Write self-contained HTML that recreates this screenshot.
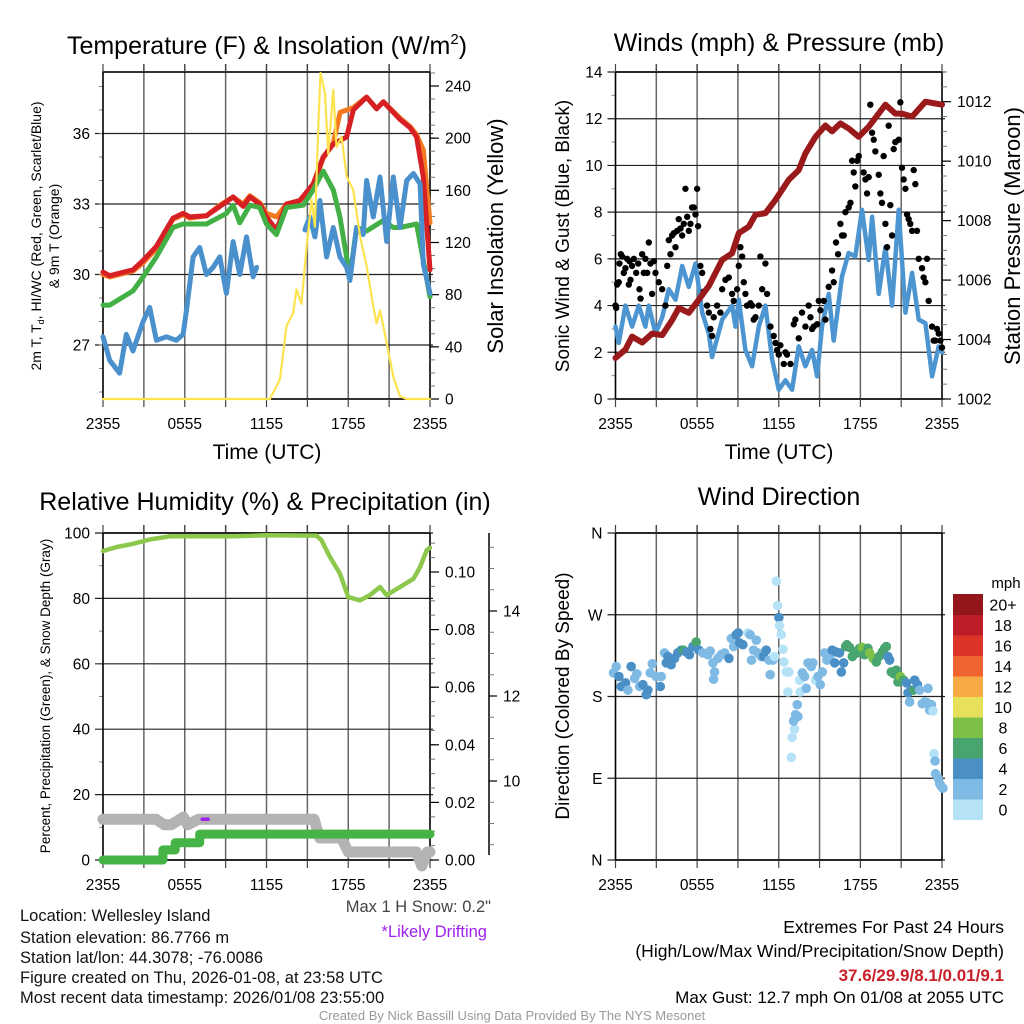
<!DOCTYPE html>
<html><head><meta charset="utf-8">
<style>
html,body{margin:0;padding:0;background:#fff;}
svg{display:block;font-family:"Liberation Sans",sans-serif;}
</style></head>
<body>
<svg id="fig" xmlns="http://www.w3.org/2000/svg" width="1024" height="1024" viewBox="0 0 1024 1024">
<rect width="1024" height="1024" fill="#fff"/>
<g id="layer"></g>
<!-- titles -->
<text x="267" y="54" font-size="25" text-anchor="middle">Temperature (F) &amp; Insolation (W/m<tspan dy="-10" font-size="15">2</tspan><tspan dy="10">)</tspan></text>
<text x="779" y="51" font-size="25" text-anchor="middle">Winds (mph) &amp; Pressure (mb)</text>
<text x="265" y="510" font-size="25" text-anchor="middle">Relative Humidity (%) &amp; Precipitation (in)</text>
<text x="779" y="505" font-size="25" text-anchor="middle">Wind Direction</text>
<!-- axis titles -->
<text x="267" y="459" font-size="21" text-anchor="middle">Time (UTC)</text>
<text x="779" y="459" font-size="21" text-anchor="middle">Time (UTC)</text>
<text transform="translate(41,236) rotate(-90)" font-size="14" text-anchor="middle">2m T, T<tspan font-size="9" dy="3">d</tspan><tspan dy="-3">, HI/WC (Red, Green, Scarlet/Blue)</tspan></text>
<text transform="translate(59,236) rotate(-90)" font-size="14" text-anchor="middle">&amp; 9m T (Orange)</text>
<text transform="translate(503,236) rotate(-90)" font-size="22" text-anchor="middle">Solar Insolation (Yellow)</text>
<text transform="translate(569,236) rotate(-90)" font-size="19" text-anchor="middle">Sonic Wind &amp; Gust (Blue, Black)</text>
<text transform="translate(1020,236) rotate(-90)" font-size="22" text-anchor="middle">Station Pressure (Maroon)</text>
<text transform="translate(50,696) rotate(-90)" font-size="13.5" text-anchor="middle">Percent, Precipitation (Green), &amp; Snow Depth (Gray)</text>
<text transform="translate(569,696) rotate(-90)" font-size="19" text-anchor="middle">Direction (Colored By Speed)</text>
<!-- footer text -->
<g font-size="16.5" fill="#111">
<text x="20" y="921">Location: Wellesley Island</text>
<text x="20" y="943">Station elevation: 86.7766 m</text>
<text x="20" y="963">Station lat/lon: 44.3078; -76.0086</text>
<text x="20" y="983">Figure created on Thu, 2026-01-08, at 23:58 UTC</text>
<text x="20" y="1003">Most recent data timestamp: 2026/01/08 23:55:00</text>
</g>
<text x="491" y="912" font-size="16.5" fill="#444" text-anchor="end">Max 1 H Snow: 0.2"</text>
<text x="487" y="937" font-size="16.5" fill="#a020f0" text-anchor="end">*Likely Drifting</text>
<text x="1004" y="933" font-size="17.5" text-anchor="end">Extremes For Past 24 Hours</text>
<text x="1004" y="957" font-size="17.5" text-anchor="end">(High/Low/Max Wind/Precipitation/Snow Depth)</text>
<text x="1004" y="981" font-size="17" font-weight="bold" fill="#c8202a" text-anchor="end">37.6/29.9/8.1/0.01/9.1</text>
<text x="1004" y="1003" font-size="17" text-anchor="end">Max Gust: 12.7 mph On 01/08 at 2055 UTC</text>
<text x="512" y="1020" font-size="13" fill="#999" text-anchor="middle">Created By Nick Bassill Using Data Provided By The NYS Mesonet</text>
</svg>
<script>
// ---------- shared ----------
var timeTicks = [0, 6, 12, 18, 24];
var timeTickLabels = ["2355", "0555", "1155", "1755", "2355"];

// ---------- temperature panel ----------
var redT = [0,0.49,2.2,2.94,3.92,5.14,5.88,6.37,7.59,8.57,9.55,10.29,10.78,11.51,12.0,12.73,13.47,14.45,15.43,16.16,16.9,17.88,18.37,19.35,20.08,20.57,21.8,22.53,23.02,23.51,24];
var redV = [30.1,29.95,30.2,30.6,31.2,32.4,32.6,32.45,32.5,32.9,33.3,32.9,33.3,33.0,32.45,31.9,33.0,33.15,33.85,35.0,35.55,35.85,37.0,37.55,37.05,37.35,36.6,36.25,35.85,34.15,30.2];
var orangeT = [0,0.49,2.2,2.94,3.92,5.14,5.88,6.37,7.59,8.57,9.55,10.29,10.78,11.51,12.0,12.73,13.47,14.45,15.43,16.16,16.9,17.4,17.88,18.37,19.35,20.08,20.57,21.8,22.53,23.02,23.51,24];
var orangeV = [30.0,29.9,30.15,30.5,31.1,32.35,32.55,32.4,32.5,32.95,33.3,33.0,33.35,33.05,32.6,32.45,33.0,33.15,33.8,34.95,35.6,36.9,37.0,37.1,37.55,37.05,37.35,36.65,36.3,35.95,35.3,32.2];
var greenT = [0,0.49,2.2,2.94,3.92,5.14,5.88,7.59,8.57,9.06,9.55,10.04,10.78,11.51,12.0,12.73,13.47,14.7,15.43,16.16,16.9,17.39,18.12,18.61,19.35,20.57,21.31,21.8,23.02,24];
var greenV = [28.7,28.7,29.3,29.9,30.75,32.0,32.15,32.15,32.45,32.6,32.95,32.2,32.95,32.85,32.15,31.7,32.85,32.95,33.6,34.4,33.6,32.45,29.9,32.0,31.85,32.3,32.0,32.0,32.15,29.05];
var hiT = [0,0.49,1.22,1.71,2.2,2.94,3.43,3.92,4.65,5.39,5.88,6.12,6.61,7.1,7.59,8.08,8.57,9.06,9.55,10.04,10.53,11.02,11.27,null,14.82,15.18,15.55,15.92,16.41,16.9,17.39,17.88,18.12,18.61,19.1,19.35,19.84,20.33,20.82,21.31,21.8,22.29,22.78,23.27,23.51,24];
var hiV = [27.35,26.35,25.8,27.45,26.75,28.0,28.6,27.2,27.35,27.2,27.45,28.45,30.75,31.15,30.0,30.3,30.75,29.2,31.4,30.0,31.6,29.9,30.3,null,31.9,32.45,31.6,33.15,30.75,32.0,30.75,30.3,29.75,32.0,31.7,34.0,32.45,34.15,31.4,34.15,32.0,34.0,34.3,33.85,30.45,29.2];
var solarT = [0,12.25,12.98,13.47,13.96,14.2,14.57,14.94,15.31,15.55,15.8,15.96,16.29,16.53,16.9,17.14,17.51,17.88,18.37,18.86,19.35,19.84,20.08,20.33,20.82,21.31,21.8,22.29,24];
var solarV = [0,0,15,56,66,84,73,117,153,132,209,250,234,188,237,193,201,171,160,125,102,71,58,68,43,17,2,0,0];
var tempTicks = [27, 30, 33, 36];
var solarTicks = [0, 40, 80, 120, 160, 200, 240];

// ---------- wind panel ----------
var presT = [0,0.73,1.22,1.96,2.69,3.43,4.16,4.65,5.39,6.12,6.86,7.84,8.57,9.06,9.8,10.29,11.02,11.76,12.73,13.47,13.96,14.7,15.43,15.92,16.53,17.14,17.88,18.61,19.35,19.84,20.57,21.06,21.8,22.78,23.51,24];
var presV = [1003.38,1003.66,1004.1,1003.9,1004.2,1004.15,1004.65,1005.06,1004.9,1005.34,1005.8,1006.68,1006.9,1007.58,1007.8,1008.2,1008.25,1008.7,1009.37,1009.7,1010.26,1010.82,1011.2,1011.0,1011.27,1011.1,1010.82,1011.16,1011.6,1011.9,1011.6,1011.6,1011.5,1012.0,1011.94,1011.9];
var windT = [0,0.24,0.73,1.22,1.71,2.2,2.45,2.94,3.43,3.92,4.41,4.9,5.39,5.88,6.37,6.86,7.1,7.84,8.57,8.82,9.06,9.55,10.04,10.53,11.02,11.51,12.0,12.49,12.98,13.47,13.96,14.45,14.82,15.18,15.67,16.04,16.65,17.14,17.63,18.12,18.61,18.86,19.35,19.84,20.33,20.82,21.31,21.8,22.29,22.78,23.27,23.76,24];
var windV = [3.1,2.4,4.0,3.1,4.0,3.1,4.0,2.8,3.5,4.7,4.25,5.7,4.8,5.8,3.7,2.8,1.8,3.4,4.0,3.1,4.25,2.1,1.4,3.1,4.0,1.7,0.4,0.8,0.4,2.25,1.4,2.1,0.97,3.1,4.5,2.5,5.25,6.25,6.1,8.1,5.95,7.8,4.5,6.5,4.0,8.1,3.7,5.4,3.4,3.25,0.97,2.25,2.0];
var gustT = [0.0,0.05,0.12,0.24,0.29,0.39,0.49,0.61,0.73,0.86,0.98,1.03,1.1,1.22,1.35,1.52,1.67,1.76,1.84,1.96,2.08,2.2,2.33,2.45,2.57,2.69,2.82,2.94,3.18,3.43,3.67,3.8,3.92,4.04,4.16,4.29,4.41,4.53,4.65,4.78,4.9,5.02,5.14,5.27,5.39,5.51,5.63,5.76,5.88,6.0,6.07,6.24,6.37,6.49,6.73,6.86,6.98,7.1,7.22,7.47,7.71,7.84,8.08,8.33,8.57,8.69,8.94,9.06,9.18,9.31,9.43,9.55,9.67,9.92,10.04,10.16,10.29,10.53,10.65,10.78,11.02,11.14,11.39,11.63,11.76,11.88,12.0,12.12,12.37,12.49,12.61,12.86,13.1,13.22,13.47,13.71,13.96,14.2,14.33,14.45,14.57,14.82,14.94,15.06,15.31,15.43,15.67,15.92,16.04,16.21,16.36,16.53,16.65,16.78,16.9,17.14,17.27,17.39,17.51,17.63,17.76,17.88,18.24,18.37,18.49,18.61,18.73,18.86,18.98,19.1,19.35,19.47,19.59,19.71,19.84,19.96,20.08,20.2,20.33,20.45,20.57,20.82,20.94,21.06,21.18,21.31,21.43,21.55,21.67,21.8,21.92,22.04,22.16,22.29,22.53,22.65,22.78,22.9,23.02,23.27,23.39,23.51,23.63,23.76,23.88,24.0];
var gustV = [4.0,3.9,4.9,5.0,5.8,6.2,6.1,5.4,5.6,6.0,4.9,5.9,5.1,5.7,6.0,5.4,5.8,4.7,4.3,6.2,5.4,6.0,5.4,6.7,5.8,4.5,5.9,5.4,5.0,4.7,4.0,5.7,6.8,6.2,7.0,7.1,6.5,7.2,7.7,7.3,7.0,7.5,9.0,7.8,7.2,7.5,8.2,8.2,7.9,9.0,7.4,5.7,5.4,4.6,4.0,3.7,3.0,2.7,3.5,4.0,3.7,4.7,5.1,5.2,4.5,4.2,4.7,5.7,6.5,6.1,5.0,4.5,4.0,4.1,4.0,3.4,3.5,4.0,6.1,4.7,5.8,4.5,3.1,2.7,2.4,2.1,1.9,2.3,1.5,2.0,1.9,1.5,3.2,3.4,2.6,3.7,3.1,4.0,3.5,3.0,3.1,3.2,4.2,3.8,4.2,3.4,4.8,5.5,5.0,6.7,6.2,7.5,7.0,7.0,8.0,8.2,8.4,10.2,9.7,9.1,10.2,10.4,9.7,9.4,8.8,9.5,12.6,11.4,11.1,10.6,9.6,8.8,8.4,10.4,7.5,6.5,11.7,8.3,7.0,10.7,11.0,11.1,12.7,9.9,9.4,9.0,7.9,7.7,7.5,7.2,9.8,9.2,7.2,6.0,5.6,5.2,5.0,6.0,4.2,3.1,2.5,2.5,3.0,2.8,2.5,2.2];
var windTicks = [0, 2, 4, 6, 8, 10, 12, 14];
var presTicks = [1002, 1004, 1006, 1008, 1010, 1012];

// ---------- humidity panel ----------
var rhT = [0,0.98,2.2,3.43,4.9,9.55,12.0,15.67,16.04,16.65,17.39,18.0,18.86,19.59,20.33,20.82,21.8,22.78,23.27,23.76,24];
var rhV = [94.5,95.7,96.7,98,99,99,99.3,99.2,97.8,92.7,87.6,80.4,79.4,81,83.5,81,83.5,86,89.6,94.7,95.5];
var precipT = [0,4.4,4.4,5.3,5.3,7.1,7.1,24];
var precipV = [0,0,0.0035,0.0035,0.006,0.006,0.009,0.009];
var snowT = [0,3.9,4.5,5.0,5.9,6.2,7.0,15.5,15.9,17.5,18.0,23.0,23.4,23.8,24];
var snowV = [9.1,9.1,8.97,8.97,9.15,8.97,9.1,9.1,8.66,8.66,8.33,8.33,8.0,8.33,8.33];
var driftT = [7.5];
var driftV = [9.1];
var rhTicks = [0, 20, 40, 60, 80, 100];
var precipTicks = [0, 0.02, 0.04, 0.06, 0.08, 0.10];
var snowTicks = [10, 12, 14];

// ---------- wind direction panel ----------
var dirT = [-0.15,0.05,0.25,0.42,0.74,0.91,1.15,1.4,1.57,1.77,2.01,2.26,2.38,2.55,2.7,2.99,3.29,3.36,3.6,3.73,3.85,4.09,4.34,4.58,4.83,5.0,5.2,5.44,5.69,5.93,6.13,6.42,6.79,6.96,7.16,7.28,7.21,7.53,7.77,8.02,8.34,8.51,8.68,8.87,9.02,9.12,9.36,9.73,9.9,10.15,10.35,10.47,10.0,10.71,10.88,11.08,11.28,11.37,11.57,11.69,11.82,11.91,12.01,12.06,12.18,12.31,12.38,12.55,12.67,12.75,12.92,12.99,13.16,13.09,13.24,13.36,13.41,13.53,13.58,13.73,13.9,14.02,14.15,14.39,14.51,14.71,14.88,15.05,15.2,15.37,15.54,15.74,15.93,16.11,16.23,16.47,16.6,16.77,16.92,17.01,17.21,17.41,17.58,17.75,17.94,18.14,18.31,18.56,18.68,18.93,19.17,19.37,19.61,19.78,19.91,20.03,20.15,20.27,20.45,20.64,20.76,20.94,21.18,21.38,21.5,21.62,21.74,21.92,21.99,22.19,22.36,22.55,22.73,22.92,22.97,23.09,23.22,23.34,23.41,23.49,23.53,23.71,23.83,23.95,24.07];
var dirV = [206,213,202,191,195,187,213,200,205,191,193,182,187,206,216,202,191,202,228,217,224,215,222,228,231,231,229,226,235,240,231,228,226,230,217,207,199,222,226,228,222,244,235,248,250,239,237,250,248,231,242,228,220,224,224,231,220,204,220,224,307,280,267,258,248,232,218,207,185,207,113,135,144,153,160,171,158,198,185,206,202,189,217,213,217,198,202,193,207,228,220,224,231,217,229,228,207,217,235,237,234,224,229,228,233,234,226,233,228,222,218,224,229,233,235,224,220,207,205,209,196,202,198,195,184,174,187,187,198,193,187,172,174,173,189,165,171,164,117,109,95,90,84,81,79];
var dirSpeed = [3,3,5,5,5,3,5,3,3,3,5,5,5,3,3,3,5,3,3,5,5,5,5,5,5,7,5,5,5,7,5,3,3,3,3,3,3,3,3,3,5,3,3,5,5,5,5,1.5,3,3,3,3,3,3,5,5,3,3,3,1.5,1.5,1.5,5,1.5,1.5,1.5,1,1,1,1,1,1,1.5,3,3,3,3,1,1.5,3,3,3,3,3,3,1.5,3,3,3,3,3,3,5,5,5,5,5,5,7,7,7,7,7,7,7,9,7,7,9,9,7,7,7,7,7,5,5,7,7,7,7,9,7,5,5,3,5,7,5,5,3,3,3,3,3,3,3,1.5,1.5,3,3,3,3,3,3];
var dirTicks = [0, 90, 180, 270, 360];
var dirTickLabels = ["N", "E", "S", "W", "N"];
var speedBins = [0, 2, 4, 6, 8, 10, 12, 14, 16, 18, 20];
var speedBinLabels = ["0", "2", "4", "6", "8", "10", "12", "14", "16", "18", "20+"];
var speedColors = ["#b5e2f6", "#7fbae4", "#4a8fc6", "#48a56f", "#7cc04a", "#e7e05a", "#f6a945", "#ef6330", "#dd3428", "#bd1d27", "#93161a"];

// ---------- drawing ----------
var NS = "http://www.w3.org/2000/svg";
var layer = document.getElementById("layer");
function mk(tag, attrs, parent) {
  var e = document.createElementNS(NS, tag);
  for (var k in attrs) e.setAttribute(k, attrs[k]);
  (parent || layer).appendChild(e);
  return e;
}
function linScale(d0, d1, r0, r1) { return function (v) { return r0 + (v - d0) / (d1 - d0) * (r1 - r0); }; }
function pathFrom(ts, vs, sx, sy) {
  var d = "", pen = false;
  for (var i = 0; i < ts.length; i++) {
    if (ts[i] === null || vs[i] === null) { pen = false; continue; }
    d += (pen ? "L" : "M") + sx(ts[i]).toFixed(1) + "," + sy(vs[i]).toFixed(1);
    pen = true;
  }
  return d;
}

function frame(x0, x1, y0, y1, name, hTicks, ySc, leftTicks, leftLabels, leftMinor) {
  var g = mk("g", {});
  
  
  var sx = linScale(0, 24, x0, x1);
  for (var h = 3; h < 24; h += 3) {
    mk("line", {x1: sx(h), x2: sx(h), y1: y0 - 8, y2: y1, stroke: "#666", "stroke-width": 1.5}, g);
  }
  hTicks.forEach(function (v) {
    var y = ySc(v);
    mk("line", {x1: x0 - 8, x2: x1 + 3, y1: y, y2: y, stroke: "#222", "stroke-width": 1.2}, g);
  });
  leftMinor.forEach(function (v) {
    var y = ySc(v);
    mk("line", {x1: x0 - 4, x2: x0, y1: y, y2: y, stroke: "#888", "stroke-width": 1}, g);
  });
  mk("rect", {x: x0, y: y0, width: x1 - x0, height: y1 - y0, fill: "none", stroke: "#000", "stroke-width": 1.6}, g);
  for (var h2 = 0; h2 <= 24; h2 += 3) {
    mk("line", {x1: sx(h2), x2: sx(h2), y1: y1, y2: y1 + 8, stroke: "#444", "stroke-width": 1.2}, g);
    mk("line", {x1: sx(h2), x2: sx(h2), y1: y0 - 8, y2: y0, stroke: "#444", "stroke-width": 1.2}, g);
  }
  timeTicks.forEach(function (t, i) {
    var tx = mk("text", {x: sx(t), y: y1 + 30, "font-size": 15.5, "text-anchor": "middle"}, g);
    
    
    tx.textContent = timeTickLabels[i];
  });
  leftTicks.forEach(function (v, i) {
    var tx = mk("text", {x: x0 - 13, y: ySc(v) + 5.5, "font-size": 15.5, "text-anchor": "end"}, g);
    
    
    tx.textContent = leftLabels[i];
  });
  return sx;
}
function rightAxis(x, ticks, labels, sc, minor, name) {
  var g = mk("g", {});
  
  
  minor.forEach(function (v) { mk("line", {x1: x, x2: x + 5, y1: sc(v), y2: sc(v), stroke: "#777", "stroke-width": 1}, g); });
  ticks.forEach(function (v, i) {
    mk("line", {x1: x, x2: x + 9, y1: sc(v), y2: sc(v), stroke: "#000", "stroke-width": 1.2}, g);
    var tx = mk("text", {x: x + 15, y: sc(v) + 5.5, "font-size": 15.5}, g);
    
    
    tx.textContent = labels[i];
  });
}
function range(a, b, s) { var r = []; for (var v = a; v <= b + 1e-9; v += s) r.push(+v.toFixed(4)); return r; }
function line(d, color, w, name) {
  var p = mk("path", {d: d, fill: "none", stroke: color, "stroke-width": w, "stroke-linejoin": "round", "stroke-linecap": "round"});
  
  
  return p;
}

// Panel 1: temperature
(function () {
  var yT = linScale(27, 36, 345, 133.5);
  var yS = linScale(0, 240, 399, 86);
  var sx = frame(103, 430, 72, 399, "temperature", tempTicks, yT, tempTicks, tempTicks.map(String), range(25, 38, 1));
  rightAxis(430, solarTicks, solarTicks.map(String), yS, range(0, 250, 10), "solar-right-axis");
  line(pathFrom(orangeT, orangeV, sx, yT), "#f47a22", 5, "temp-9m-line");
  line(pathFrom(redT, redV, sx, yT), "#d62024", 5, "temp-2m-line");
  line(pathFrom(greenT, greenV, sx, yT), "#42b044", 5, "dewpoint-line");
  line(pathFrom(hiT, hiV, sx, yT), "#4a90cc", 5, "windchill-line");
  line(pathFrom(solarT, solarV, sx, yS), "#fde34e", 2.2, "solar-line");
})();

// Panel 2: wind
(function () {
  var yW = linScale(0, 14, 399, 72);
  var yP = linScale(1002, 1012, 399, 101.7);
  var sx = frame(615.5, 942, 72, 399, "wind", windTicks, yW, windTicks, windTicks.map(String), range(1, 13, 2));
  rightAxis(942, presTicks, presTicks.map(String), yP, range(1002, 1013, 0.5), "pressure-right-axis");
  line(pathFrom(windT, windV, sx, yW), "#4d95d0", 4.5, "sonic-wind-line");
  gustT.forEach(function (t, i) {
    var c = mk("circle", {cx: sx(t), cy: yW(gustV[i]), r: 3.2, fill: "#000"});
    
    
  });
  line(pathFrom(presT, presV, sx, yP), "#9a1a1c", 6, "pressure-line");
})();

// Panel 3: humidity
(function () {
  var yR = linScale(0, 100, 860, 533);
  var yPr = linScale(0, 0.10, 860, 572);
  var ySn = linScale(12, 14, 696, 611);
  var sx = frame(103, 430, 533, 860, "humidity", rhTicks, yR, rhTicks, rhTicks.map(String), range(10, 90, 20));
  rightAxis(430, precipTicks, precipTicks.map(function (v) { return v.toFixed(2); }), yPr, range(0, 0.11, 0.005), "precip-right-axis");
  var g = mk("g", {});
  
  
  mk("line", {x1: 489, x2: 489, y1: 533, y2: 855, stroke: "#000", "stroke-width": 1.5}, g);
  range(8, 15.5, 0.5).forEach(function (v) {
    var y = ySn(v);
    if (y >= 533 && y <= 855) mk("line", {x1: 489, x2: 494, y1: y, y2: y, stroke: "#777", "stroke-width": 1}, g);
  });
  snowTicks.forEach(function (v) {
    mk("line", {x1: 489, x2: 497, y1: ySn(v), y2: ySn(v), stroke: "#000", "stroke-width": 1.2}, g);
    var tx = mk("text", {x: 503, y: ySn(v) + 5.5, "font-size": 15.5}, g);
    
    
    tx.textContent = String(v);
  });
  line(pathFrom(snowT, snowV, sx, ySn), "#b3b3b3", 11, "snow-depth-line");
  line(pathFrom(precipT, precipV, sx, yPr), "#46b346", 9, "precip-line");
  line(pathFrom(rhT, rhV, sx, yR), "#8cc84b", 4.5, "rh-line");
  driftT.forEach(function (t, i) {
    var m = mk("line", {x1: sx(t) - 3, x2: sx(t) + 3, y1: ySn(driftV[i]), y2: ySn(driftV[i]), stroke: "#a020f0", "stroke-width": 3.5, "stroke-linecap": "round"});
    
    
  });
})();

// Panel 4: wind direction
(function () {
  var yD = linScale(0, 360, 860, 533);
  var sx = frame(615.5, 942, 533, 860, "direction", dirTicks, yD, dirTicks, dirTickLabels, []);
  function colorFor(s) {
    var k = 0;
    for (var i = 0; i < speedBins.length; i++) if (s >= speedBins[i]) k = i;
    return speedColors[k];
  }
  dirT.forEach(function (t, i) {
    var c = mk("circle", {cx: sx(t), cy: yD(dirV[i]), r: 4.8, fill: colorFor(dirSpeed[i])});
    
    
  });
  var g = mk("g", {});
  
  
  var top = 594, h = 20.5;
  var n = speedBins.length;
  for (var i = 0; i < n; i++) {
    var yy = top + (n - 1 - i) * h;
    var r = mk("rect", {x: 953, y: yy, width: 30, height: h + 0.5, fill: speedColors[i]}, g);
    
    
    var tx = mk("text", {x: 1003, y: yy + h / 2 + 6, "font-size": 16, "text-anchor": "middle"}, g);
    
    
    tx.textContent = speedBinLabels[i];
  }
  var mt = mk("text", {x: 1006, y: 588, "font-size": 15, "text-anchor": "middle"}, g);
  
  
  mt.textContent = "mph";
})();
</script>
</body></html>
